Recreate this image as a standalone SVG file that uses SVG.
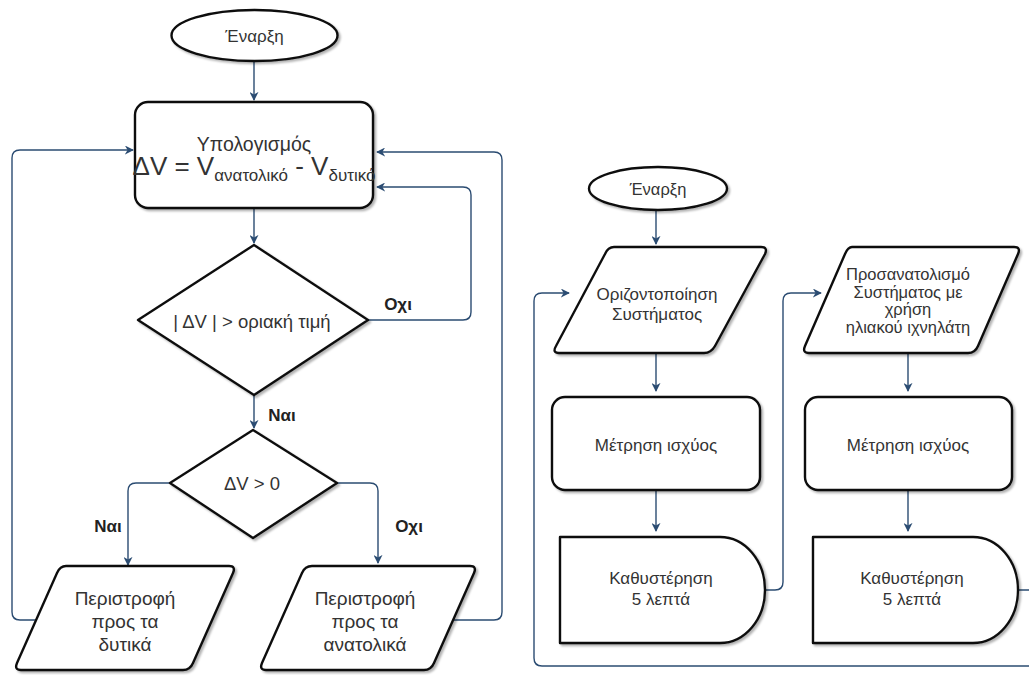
<svg xmlns="http://www.w3.org/2000/svg" width="1029" height="675" viewBox="0 0 1029 675">
<defs>
<style>
.node{fill:#fff;stroke:#111;stroke-width:2.4;stroke-linejoin:round;filter:url(#sh)}
.t{font-family:"Liberation Sans",Arial,sans-serif;fill:#333;text-anchor:middle}
.lbl{font-family:"Liberation Sans",Arial,sans-serif;fill:#222;font-weight:bold;text-anchor:middle}
.c{fill:none;stroke:#2b4c72;stroke-width:1.4}
.a{marker-end:url(#ar)}
</style>
<marker id="ar" viewBox="0 0 10 10" refX="9" refY="5" markerWidth="9" markerHeight="9" markerUnits="userSpaceOnUse" orient="auto">
<path d="M0,0 L10,5 L0,10 L3,5 Z" fill="#2b4c72"/>
</marker>
<filter id="sh" x="-10%" y="-10%" width="125%" height="125%">
<feDropShadow dx="2" dy="2" stdDeviation="1.2" flood-color="#000" flood-opacity="0.3"/>
</filter>
</defs>
<rect width="1029" height="675" fill="#fff"/>

<g id="connectors">
<path class="c a" d="M254,61 V100"/>
<path class="c a" d="M254,208 V243"/>
<path class="c a" d="M254,395 V428"/>
<path class="c a" d="M170,483 H136 Q128,483 128,491 V565"/>
<path class="c a" d="M337,483 H370 Q378,483 378,491 V563"/>
<path class="c a" d="M37,620 H20 Q12,620 12,612 V158 Q12,150 20,150 H133"/>
<path class="c a" d="M453,620 H494 Q502,620 502,612 V160 Q502,152 494,152 H377"/>
<path class="c a" d="M368,320 H463 Q471,320 471,312 V195 Q471,187 463,187 H377"/>
<path class="c a" d="M656,210 V244"/>
<path class="c a" d="M656,353 V391"/>
<path class="c a" d="M656,490 V531"/>
<path class="c a" d="M908,353 V391"/>
<path class="c a" d="M908,490 V531"/>
<path class="c a" d="M765,590 H775 Q783,590 783,582 V301 Q783,293 791,293 H821"/>
<path class="c a" d="M1018,590 H1040 V666 H542 Q534,666 534,658 V301 Q534,293 542,293 H569"/>
</g>

<g id="start1">
<ellipse class="node" cx="254.5" cy="35.5" rx="83" ry="25.5"/>
<text class="t" x="254.5" y="42" font-size="17">Έναρξη</text>
</g>
<g id="calc">
<rect class="node" x="135" y="102" width="238" height="106" rx="13"/>
<text class="t" x="254" y="151" font-size="19.5">Υπολογισμός</text>
<text class="t" x="254" y="175" font-size="26">ΔV = V<tspan font-size="17" dy="6">ανατολικό</tspan><tspan dy="-6"> - V</tspan><tspan font-size="17" dy="6">δυτικό</tspan></text>
</g>
<g id="dec1">
<path class="node" d="M254,245 L368,320 L254,395 L138,320 Z"/>
<text class="t" x="252" y="328" font-size="18.5">| ΔV | &gt; οριακή τιμή</text>
</g>
<g id="dec2">
<path class="node" d="M253,430 L337,483 L253,538 L170,483 Z"/>
<text class="t" x="252" y="490" font-size="18.5">ΔV &gt; 0</text>
</g>
<g id="west">
<path class="node" d="M66,566 H229 Q236,566 233,573 L193,663 Q190,670 183,670 H21 Q14,670 17,663 L57,573 Q60,566 66,566 Z"/>
<text class="t" x="125" y="605" font-size="19">Περιστροφή</text>
<text class="t" x="125" y="628" font-size="19">προς τα</text>
<text class="t" x="125" y="651" font-size="19">δυτικά</text>
</g>
<g id="east">
<path class="node" d="M312,566 H470 Q477,566 474,573 L434,663 Q431,670 424,670 H266 Q259,670 262,663 L302,573 Q305,566 312,566 Z"/>
<text class="t" x="365" y="605" font-size="19">Περιστροφή</text>
<text class="t" x="365" y="628" font-size="19">προς τα</text>
<text class="t" x="365" y="651" font-size="19">ανατολικά</text>
</g>
<g id="labels">
<text class="lbl" x="398" y="310" font-size="17">Οχι</text>
<text class="lbl" x="282" y="421" font-size="17">Ναι</text>
<text class="lbl" x="108" y="532" font-size="17">Ναι</text>
<text class="lbl" x="409" y="532" font-size="17">Οχι</text>
</g>

<g id="start2">
<ellipse class="node" cx="658" cy="188.5" rx="69" ry="21.5"/>
<text class="t" x="658" y="195" font-size="16.5">Έναρξη</text>
</g>
<g id="level">
<path class="node" d="M614,247 H761 Q768,247 765,254 L715,346 Q711,353 704,353 H559 Q552,353 556,346 L605,254 Q608,247 614,247 Z"/>
<text class="t" x="657" y="300" font-size="17">Οριζοντοποίηση</text>
<text class="t" x="657" y="320" font-size="17">Συστήματος</text>
</g>
<g id="measure1">
<rect class="node" x="552" y="397" width="208" height="93" rx="13"/>
<text class="t" x="656" y="451" font-size="17">Μέτρηση ισχύος</text>
</g>
<g id="delay1">
<path class="node" d="M560,537 H720 A45,53 0 0 1 720,643 H560 Z"/>
<text class="t" x="661" y="584" font-size="17">Καθυστέρηση</text>
<text class="t" x="661" y="605" font-size="17">5 λεπτά</text>
</g>
<g id="orient">
<path class="node" d="M852,247 H1014 Q1021,247 1018,254 L978,346 Q975,353 968,353 H809 Q802,353 805,346 L845,254 Q848,247 852,247 Z"/>
<text class="t" x="908" y="280" font-size="16.5">Προσανατολισμό</text>
<text class="t" x="908" y="298" font-size="16.5">Συστήματος με</text>
<text class="t" x="908" y="315" font-size="16.5">χρήση</text>
<text class="t" x="908" y="333" font-size="16.5">ηλιακού ιχνηλάτη</text>
</g>
<g id="measure2">
<rect class="node" x="805" y="397" width="207" height="93" rx="13"/>
<text class="t" x="908" y="451" font-size="17">Μέτρηση ισχύος</text>
</g>
<g id="delay2">
<path class="node" d="M813,537 H973 A45,53 0 0 1 973,643 H813 Z"/>
<text class="t" x="912" y="584" font-size="17">Καθυστέρηση</text>
<text class="t" x="912" y="605" font-size="17">5 λεπτά</text>
</g>
</svg>
